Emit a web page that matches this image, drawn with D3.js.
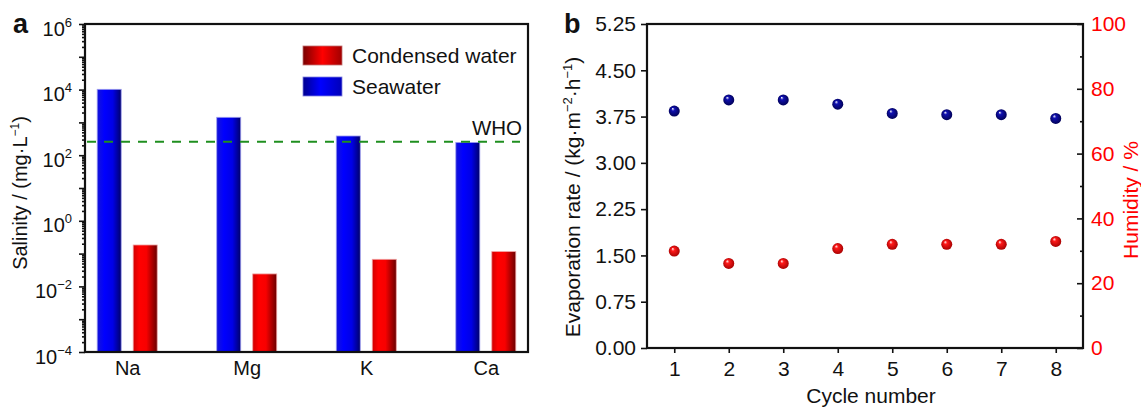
<!DOCTYPE html>
<html>
<head>
<meta charset="utf-8">
<script src="https://cdn.jsdelivr.net/npm/d3@7"></script>
<style>
  body { margin: 0; background: #fff; }
  svg { display: block; font-family: "Liberation Sans", Arial, sans-serif; }
  .axis text { font-size: 20px; fill: #111; font-family: "Liberation Sans", Arial, sans-serif; }
  .axis-b text { font-size: 21px; }
  .axis line { stroke: #111; stroke-width: 1.6; }
  .axis path { display: none; }
</style>
</head>
<body>
<div id="chart"></div>
<script>
// panel a data
var elements = ["Na", "Mg", "K", "Ca"];
var seawater = [10200, 1430, 385, 245];
var condensed = [0.183, 0.024, 0.067, 0.115];
var who_limit = 255;
var salinity_exps = [-4, -3, -2, -1, 0, 1, 2, 3, 4, 5, 6];

// panel b data
var cycles = [1, 2, 3, 4, 5, 6, 7, 8];
var evap_rate = [3.84, 4.02, 4.02, 3.95, 3.80, 3.78, 3.78, 3.72];
var humidity = [29.9, 26.1, 26.1, 30.7, 32.0, 32.0, 32.0, 32.9];
var evap_ticks = [0, 0.75, 1.5, 2.25, 3, 3.75, 4.5, 5.25];
var hum_ticks = [0, 20, 40, 60, 80, 100];
var hum_minor = [10, 30, 50, 70, 90];

var W = 1141, H = 407;

var svg = d3.select("#chart").append("svg")
    .attr("width", W)
    .attr("height", H);

var defs = svg.append("defs");

function hgrad(id, stops){
  var g = defs.append("linearGradient").attr("id", id)
      .attr("x1", "0%").attr("x2", "100%").attr("y1", "0%").attr("y2", "0%");
  stops.forEach(function(s){
    g.append("stop").attr("offset", s[0]).attr("stop-color", s[1]);
  });
}
hgrad("blueBar", [["0%", "#1414d8"], ["30%", "#0000ff"], ["65%", "#0000e6"], ["100%", "#00006a"]]);
hgrad("redBar", [["0%", "#d00000"], ["25%", "#ff0000"], ["55%", "#f80000"], ["100%", "#6a0000"]]);
hgrad("blueKey", [["0%", "#000090"], ["45%", "#0000ff"], ["100%", "#0000b8"]]);
hgrad("redKey", [["0%", "#7a0000"], ["50%", "#ff0000"], ["100%", "#a00000"]]);

function sphere(id, base, dark){
  var g = defs.append("radialGradient").attr("id", id)
      .attr("cx", "50%").attr("cy", "50%").attr("r", "55%")
      .attr("fx", "35%").attr("fy", "28%");
  g.append("stop").attr("offset", "0%").attr("stop-color", "#ffffff");
  g.append("stop").attr("offset", "28%").attr("stop-color", base);
  g.append("stop").attr("offset", "100%").attr("stop-color", dark);
}
sphere("blueBall", "#1010b0", "#000050");
sphere("redBall", "#ff1a1a", "#a00000");

// ---------- PANEL A ----------
var a = {left: 85, right: 528, top: 24, bottom: 352};

var xA = d3.scalePoint()
    .domain(elements)
    .range([a.left, a.right])
    .padding(0.353);

var yA = d3.scaleLog()
    .domain([1e-4, 1e6])
    .range([a.bottom, a.top]);

var barW = 24, barGap = 6;

var gA = svg.append("g");

// minor ticks
var minorVals = [];
for (var k = -4; k < 6; k++){
  for (var m = 2; m < 10; m++) minorVals.push(m * Math.pow(10, k));
}
gA.append("g")
    .attr("class", "axis")
    .attr("transform", "translate(" + a.left + ",0)")
    .call(d3.axisLeft(yA).tickValues(minorVals).tickSize(3).tickFormat(""));

var yAxisA = gA.append("g")
    .attr("class", "axis")
    .attr("transform", "translate(" + a.left + ",0)")
    .call(d3.axisLeft(yA)
      .tickValues(salinity_exps.map(function(e){ return Math.pow(10, e); }))
      .tickSize(6).tickPadding(7).tickFormat(""));

yAxisA.selectAll(".tick text").each(function(d){
  var e = Math.round(Math.log10(d));
  var t = d3.select(this);
  if (e % 2 !== 0) return;
  t.append("tspan").text("10");
  t.append("tspan").attr("dy", -9).attr("font-size", 13)
      .text(e < 0 ? "\u2212" + (-e) : e);
  t.attr("dy", "0.55em");
});

// bars
gA.selectAll(".sea-bar")
    .data(seawater)
  .enter().append("rect")
    .attr("class", "sea-bar")
    .attr("x", function(d, i){ return xA(elements[i]) - barGap - barW; })
    .attr("width", barW)
    .attr("y", function(d){ return yA(d); })
    .attr("height", function(d){ return a.bottom - yA(d); })
    .attr("fill", "url(#blueBar)")
    .attr("stroke", "#9c9cf0").attr("stroke-width", 0.8);

gA.selectAll(".cond-bar")
    .data(condensed)
  .enter().append("rect")
    .attr("class", "cond-bar")
    .attr("x", function(d, i){ return xA(elements[i]) + barGap; })
    .attr("width", barW)
    .attr("y", function(d){ return yA(d); })
    .attr("height", function(d){ return a.bottom - yA(d); })
    .attr("fill", "url(#redBar)")
    .attr("stroke", "#f0a0a0").attr("stroke-width", 0.8);

// WHO line
gA.append("line")
    .attr("x1", a.left + 2).attr("x2", a.right - 8)
    .attr("y1", yA(who_limit)).attr("y2", yA(who_limit))
    .attr("stroke", "#1f8f1f").attr("stroke-width", 2)
    .attr("stroke-dasharray", "9,8");

gA.append("text")
    .attr("x", a.right - 6).attr("y", yA(who_limit) - 7)
    .attr("text-anchor", "end")
    .attr("font-size", 20.5).attr("fill", "#111")
    .text("WHO");

// x axis labels
gA.append("g")
    .attr("class", "axis")
    .attr("transform", "translate(0," + a.bottom + ")")
    .call(d3.axisBottom(xA).tickSize(0).tickPadding(9));

// frame
gA.append("rect")
    .attr("x", a.left).attr("y", a.top)
    .attr("width", a.right - a.left).attr("height", a.bottom - a.top)
    .attr("fill", "none").attr("stroke", "#111").attr("stroke-width", 2.2);

// legend
var legend = [
  {name: "Condensed water", fill: "url(#redKey)", stroke: "#c07070"},
  {name: "Seawater", fill: "url(#blueKey)", stroke: "#8080e0"}
];
var key = gA.selectAll(".key")
    .data(legend)
  .enter().append("g")
    .attr("class", "key")
    .attr("transform", function(d, i){ return "translate(303," + (46 + i * 31) + ")"; });
key.append("rect")
    .attr("width", 39).attr("height", 19)
    .attr("fill", function(d){ return d.fill; })
    .attr("stroke", function(d){ return d.stroke; }).attr("stroke-width", 0.8);
key.append("text")
    .attr("x", 49).attr("y", 17)
    .attr("font-size", 21).attr("fill", "#111")
    .text(function(d){ return d.name; });

// y label
var yLabA = gA.append("text")
    .attr("transform", "translate(27,193) rotate(-90)")
    .attr("text-anchor", "middle")
    .attr("font-size", 20).attr("fill", "#111");
yLabA.append("tspan").text("Salinity / (mg\u00b7L");
yLabA.append("tspan").attr("dy", -8).attr("font-size", 12).text("\u22121");
yLabA.append("tspan").attr("dy", 8).text(")");

gA.append("text")
    .attr("x", 13).attr("y", 33)
    .attr("font-size", 27).attr("font-weight", "bold").attr("fill", "#111")
    .text("a");

// ---------- PANEL B ----------
var b = {left: 647, right: 1083, top: 24, bottom: 348};

var xB = d3.scaleLinear().domain([0.5, 8.5]).range([b.left, b.right]);
var yB = d3.scaleLinear().domain([0, 5.25]).range([b.bottom, b.top]);
var yB2 = d3.scaleLinear().domain([0, 100]).range([b.bottom, b.top]);

var gB = svg.append("g");

gB.append("g")
    .attr("class", "axis axis-b")
    .attr("transform", "translate(" + b.left + ",0)")
    .call(d3.axisLeft(yB).tickValues(evap_ticks).tickSize(6).tickPadding(5)
      .tickFormat(d3.format(".2f")));

gB.append("g")
    .attr("class", "axis axis-b")
    .attr("transform", "translate(0," + b.bottom + ")")
    .call(d3.axisBottom(xB).tickValues(cycles).tickSize(5).tickPadding(8)
      .tickFormat(d3.format("d")));

gB.append("g")
    .attr("class", "axis")
    .attr("transform", "translate(" + b.right + ",0)")
    .call(d3.axisRight(yB2).tickValues(hum_minor).tickSize(-3).tickFormat(""));

var rAxis = gB.append("g")
    .attr("class", "axis axis-b")
    .attr("transform", "translate(" + b.right + ",0)")
    .call(d3.axisRight(yB2).tickValues(hum_ticks).tickSize(-6).tickPadding(8)
      .tickFormat(d3.format("d")));
rAxis.selectAll("text").style("fill", "#ff0000");

gB.append("rect")
    .attr("x", b.left).attr("y", b.top)
    .attr("width", b.right - b.left).attr("height", b.bottom - b.top)
    .attr("fill", "none").attr("stroke", "#111").attr("stroke-width", 2.2);

gB.selectAll(".evap-dot")
    .data(evap_rate)
  .enter().append("circle")
    .attr("class", "evap-dot")
    .attr("cx", function(d, i){ return xB(cycles[i]); })
    .attr("cy", function(d){ return yB(d); })
    .attr("r", 5.5)
    .attr("fill", "url(#blueBall)");

gB.selectAll(".hum-dot")
    .data(humidity)
  .enter().append("circle")
    .attr("class", "hum-dot")
    .attr("cx", function(d, i){ return xB(cycles[i]); })
    .attr("cy", function(d){ return yB2(d); })
    .attr("r", 5.5)
    .attr("fill", "url(#redBall)");

var yLabB = gB.append("text")
    .attr("transform", "translate(580,197) rotate(-90)")
    .attr("text-anchor", "middle")
    .attr("font-size", 21).attr("fill", "#111");
yLabB.append("tspan").text("Evaporation rate / (kg\u00b7m");
yLabB.append("tspan").attr("dy", -8).attr("font-size", 13).text("\u22122");
yLabB.append("tspan").attr("dy", 8).text("\u00b7h");
yLabB.append("tspan").attr("dy", -8).attr("font-size", 13).text("\u22121");
yLabB.append("tspan").attr("dy", 8).text(")");

gB.append("text")
    .attr("transform", "translate(1138,200) rotate(-90)")
    .attr("text-anchor", "middle")
    .attr("font-size", 21).attr("fill", "#ff0000")
    .text("Humidity / %");

gB.append("text")
    .attr("x", 871).attr("y", 403)
    .attr("text-anchor", "middle")
    .attr("font-size", 21).attr("fill", "#111")
    .text("Cycle number");

gB.append("text")
    .attr("x", 564).attr("y", 33)
    .attr("font-size", 27).attr("font-weight", "bold").attr("fill", "#111")
    .text("b");
</script>
</body>
</html>
